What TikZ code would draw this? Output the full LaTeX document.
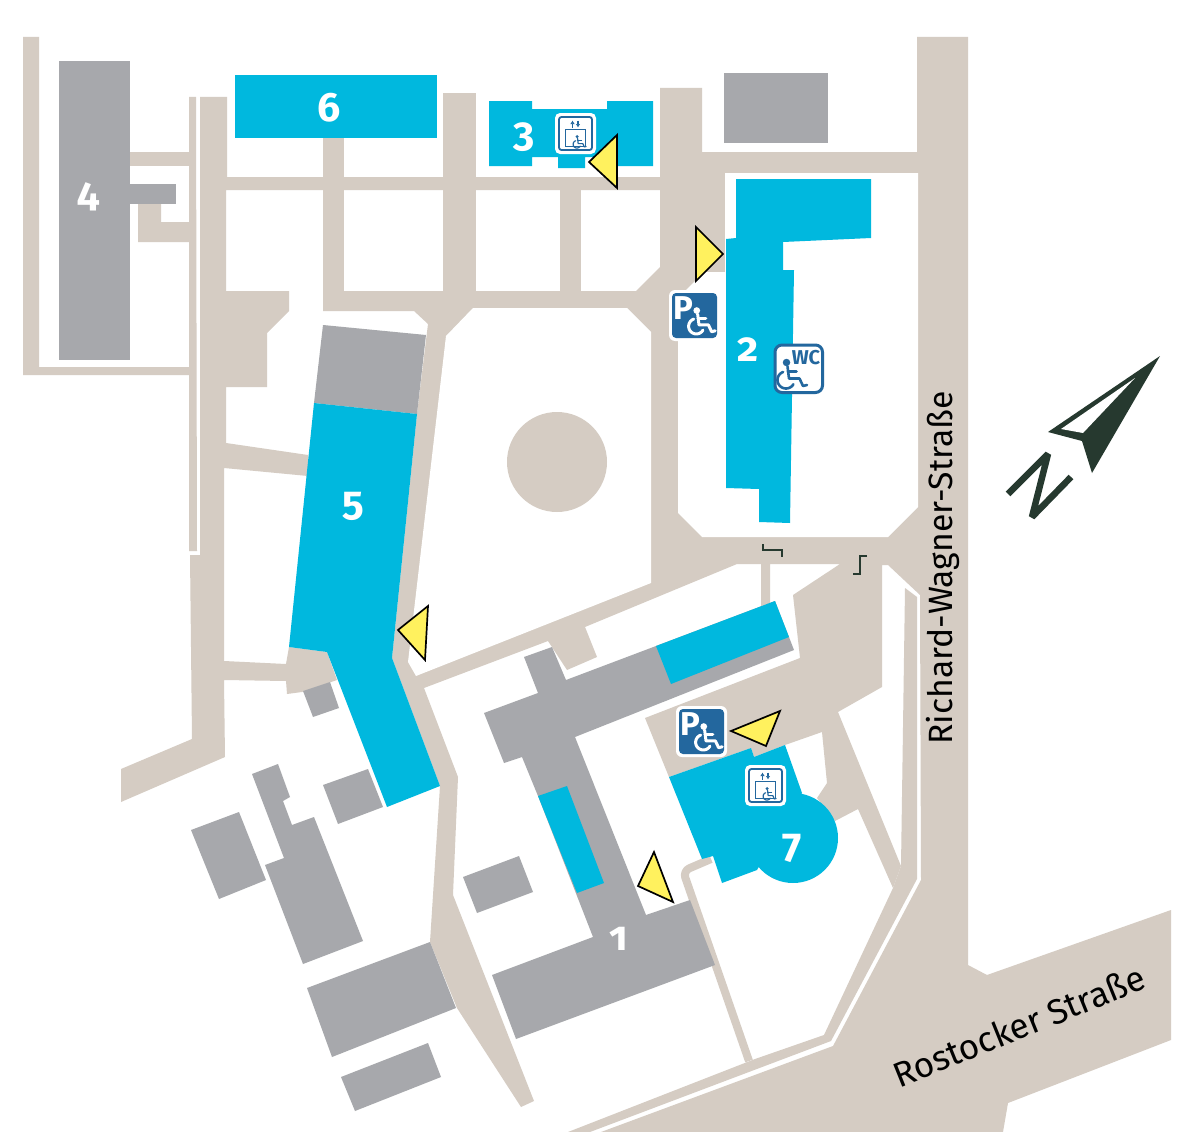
\documentclass[tikz,border=0pt]{standalone}
\usepackage{fontspec}
\setmainfont{Fira Sans}[Numbers=OldStyle]
\usetikzlibrary{arrows.meta}
\definecolor{roadc}{HTML}{D5CCC3}
\definecolor{grayc}{HTML}{A7A8AC}
\definecolor{bluec}{HTML}{00B8DE}
\definecolor{iconc}{HTML}{23679E}
\definecolor{yelc}{HTML}{FFF15E}
\definecolor{darkc}{HTML}{26392F}
\tikzset{
  road/.style={fill=roadc},
  bldg/.style={fill=grayc},
  hall/.style={fill=bluec},
  blank/.style={fill=white},
  entry/.style={fill=yelc,draw=black,line width=1.7pt,line join=miter},
  num/.style={text=white,font=\fontsize{41}{41}\selectfont\bfseries,inner sep=0pt},
  streetname/.style={text=black,font=\fontsize{33.7}{34}\selectfont,inner sep=0pt},
  stepmark/.style={draw=darkc,line width=2.6pt}
}
\newcommand{\wchair}[5]{%
  \begin{scope}[shift={(#1,#2)},scale=#3/100]
    \fill[#4] (55,39) circle[radius=7.5];
    \draw[#4,line width=#5pt,line join=round,line cap=round] (57,47)--(60,71)--(81,71)--(88,86)--(96,84);
    \draw[#4,line width=#5pt,line cap=round] (58,57)--(75,57);
    \draw[#4,line width=#5pt,line cap=round] plot[domain=30:250,samples=30] ({54+17*cos(\x)},{74+17*sin(\x)});
  \end{scope}}
\newcommand{\parkicon}[4]{% x y name size
  \fill[white,rounded corners=6pt] (#1-3,#2-3) rectangle ++(#4+6,#4+6);
  \fill[iconc,rounded corners=4pt] (#1,#2) rectangle ++(#4,#4);
  \node[text=white,font=\fontsize{33}{33}\selectfont\bfseries,inner sep=0pt] (#3) at (#1+11.5,#2+15) {P};
  \wchair{#1}{#2}{#4}{white}{3}}
\newcommand{\elevicon}[3]{% x y name
  \fill[white,rounded corners=5pt] (#1,#2) rectangle ++(41,41);
  \draw[iconc,line width=1.8pt,rounded corners=2.5pt] (#1+4,#2+4) rectangle ++(33,33);
  \draw[iconc,line width=1.3pt] (#1+10.5,#2+16.5) rectangle ++(20,17);
  \draw[iconc,line width=1.1pt,-{Latex[length=3.5pt,width=4.5pt]}] (#1+17.5,#2+14.5) -- (#1+17.5,#2+7.5);
  \draw[iconc,line width=1.1pt,-{Latex[length=3.5pt,width=4.5pt]}] (#1+23,#2+7.5) -- (#1+23,#2+14.5);
  \coordinate (#3) at (#1+20,#2+20);
  \wchair{#1+10}{#2+15}{22}{iconc}{1.2}}
\begin{document}
\begin{tikzpicture}[x=1pt,y=-1pt]
\useasboundingbox (0,0) rectangle (1200,1132);
\fill[white] (0,0) rectangle (1200,1132);
% --- roads ---
\fill[road] (917,37)--(968,37)--(968,965)--(987,975)--(1171,910)--(1171,1040)--(1008,1103)--(1003,1132)--(601,1132)--(833,1046)--(921,880)--(920,595)--(888,565)--(882,565)--(882,687)--(838,712)--(901,866)--(893,888)--(858,809)--(835,821)--(817,798)--(827,783)--(822,732)--(785,745)--(754,757)--(751,748)--(669,777)--(645,718)--(800,658)--(793,595)--(840,564)--(770,564)--(770,603)--(761,606)--(761,564)--(737,564)--(585,627)--(597,657)--(567,670)--(548,641)--(424,688)--(458,777)--(453,895)--(534,1101)--(521,1107)--(457,1008)--(430,942)--(440,786)--(392,658)--(417,414)--(428,324)--(414,311)--(323,311)--(323,291)--(636,291)--(660,267)--(660,88)--(702,88)--(702,152)--(917,152)--cycle;
\fill[road] (905,588)--(917,597)--(917,879)--(831,1041)--(590,1132)--(568,1132)--(755,1059)--(824,1035)--(893,888)--(901,866)--cycle;
\fill[road] (23,37)--(39,37)--(39,367)--(189,367)--(189,97)--(196,97)--(197,551)--(189,551)--(189,375)--(23,375)--cycle;
\fill[road] (130,152) rectangle (189,166);
\fill[road] (138,204)--(161,204)--(161,222)--(189,222)--(189,242)--(138,242)--cycle;
\fill[road] (200,97)--(227,97)--(227,177)--(660,177)--(660,190)--(226,190)--(226,291)--(289,291)--(289,311)--(267,333)--(267,387)--(226,387)--(226,443)--(308,455)--(308,476)--(224,468)--(224,661)--(286,664)--(289,647)--(327,652)--(337,680)--(302,692)--(287,694)--(286,681)--(224,680)--(225,757)--(121,802)--(121,769)--(192,739)--(190,555)--(200,555)--cycle;
\fill[road] (323,138) rectangle (344,295);
\fill[road] (443,93) rectangle (476,295);
\fill[road] (560,185) rectangle (581,295);
\draw[roadc,line width=8pt,line join=round,rounded corners=7pt] (711,859)--(683,871)--(749,1061);
% --- white blocks enclosed by the roads ---
\fill[blank] (473,308)--(627,308)--(651,332)--(651,583)--(416,676)--(408,662)--(446,336)--cycle;
\fill[blank] (725,173)--(918,173)--(918,507)--(888,537)--(702,537)--(678,513)--(678,298)--(704,272)--(725,272)--cycle;
\fill[road] (557,462) circle[radius=50];
% --- grey buildings ---
\fill[bldg] (59,61) rectangle (130,360);
\fill[bldg] (130,184) rectangle (176,204);
\fill[bldg] (724,73) rectangle (828,143);
\fill[bldg] (323,325)--(426,335)--(417,414)--(314,403)--cycle;
\fill[bldg] (303,691)--(330,682)--(339,708)--(313,717)--cycle;
\fill[bldg] (323,785)--(368,769)--(383,807)--(338,824)--cycle;
\fill[bldg] (191,830)--(239,812)--(266,880)--(219,899)--cycle;
\fill[bldg] (252,774)--(278,764)--(290,797)--(283,801)--(292,825)--(314,817)--(363,941)--(303,964)--(265,865)--(284,858)--cycle;
\fill[bldg] (307,988)--(430,942)--(456,1008)--(332,1057)--cycle;
\fill[bldg] (341,1077)--(428,1043)--(441,1077)--(355,1111)--cycle;
\fill[bldg] (463,877)--(519,856)--(533,892)--(477,913)--cycle;
\fill[bldg] (524,657)--(552,647)--(566,680)--(656,646)--(775,601)--(794,650)--(575,737)--(646,915)--(690,900)--(715,965)--(516,1039)--(492,975)--(593,937)--(538,796)--(522,757)--(504,763)--(484,713)--(538,693)--cycle;
% --- blue buildings ---
\fill[hall] (656,646)--(775,601)--(789,637)--(671,684)--cycle;
\fill[hall] (538,796)--(567,786)--(604,883)--(577,893)--cycle;
\fill[hall] (235,75) rectangle (437,138);
\fill[hall] (489,101)--(532,101)--(532,109)--(607,109)--(607,101)--(653,101)--(653,166)--(607,166)--(607,157)--(585,157)--(585,168)--(558,168)--(558,157)--(532,157)--(532,166)--(489,166)--cycle;
\fill[hall] (736,179)--(871,179)--(871,238)--(783,242)--(783,270)--(794,270)--(790,523)--(759,522)--(759,489)--(726,488)--(726,239)--(736,238)--cycle;
\fill[hall] (314,403)--(417,414)--(392,658)--(440,786)--(387,807)--(327,652)--(289,647)--cycle;
\fill[hall] (669,777)--(751,748)--(754,757)--(785,745)--(802,793)--(757,870)--(722,883)--(713,856)--(702,859)--cycle;
\fill[hall] (793,838) circle[radius=45];
% --- entrance triangles ---
\draw[entry] (589,162)--(617,135)--(617,188)--cycle;
\draw[entry] (696,227)--(723,254)--(696,281)--cycle;
\draw[entry] (398,630)--(428,606)--(425,660)--cycle;
\draw[entry] (731,731)--(780,711)--(766,746)--cycle;
\draw[entry] (654,852)--(638,886)--(673,902)--cycle;
% --- icons ---
\elevicon{555}{113}{lift3}
\elevicon{745}{765}{lift7}
\parkicon{672}{293}{parkA}{45}
\parkicon{679}{709}{parkB}{45}
\draw[iconc,line width=3pt,fill=white,rounded corners=7pt] (775,345) rectangle (822.5,392.5);
\node[text=iconc,font=\fontsize{20}{20}\selectfont\bfseries,inner sep=0pt] (wc) at (806,358) {WC};
\wchair{759}{343}{50}{iconc}{2.6}
% --- building numbers ---
\node[num] (n6) at (329,108) {6};
\node[num] (n3) at (524,137) {3};
\node[num] (n4) at (89,197) {4};
\node[num] (n5) at (353,506) {5};
\node[num] (n2) at (748,350) {2};
\node[num] (n7) at (792,848) {7};
\node[num] (n1) at (619,939) {1};
% --- street names ---
\node[streetname,rotate=90] (rw) at (943,568) {Richard-Wagner-Straße};
\node[streetname,rotate=22,font=\fontsize{35}{35}\selectfont] (rs) at (1019,1026) {Rostocker Straße};
% --- step marks ---
\draw[stepmark] (763,544)--(763,550)--(782,550)--(782,557);
\draw[stepmark] (867,556)--(860,556)--(860,574)--(853,574);
% --- north arrow ---
\fill[darkc] (1160,356)--(1048,432)--(1082,441)--(1092,473)--cycle;
\fill[white] (1135,378)--(1061,429)--(1083,433)--cycle;
\draw[darkc,line width=6.5pt,line join=bevel] (1008,494)--(1048,454)--(1032,517)--(1071,477);
\end{tikzpicture}
\end{document}
